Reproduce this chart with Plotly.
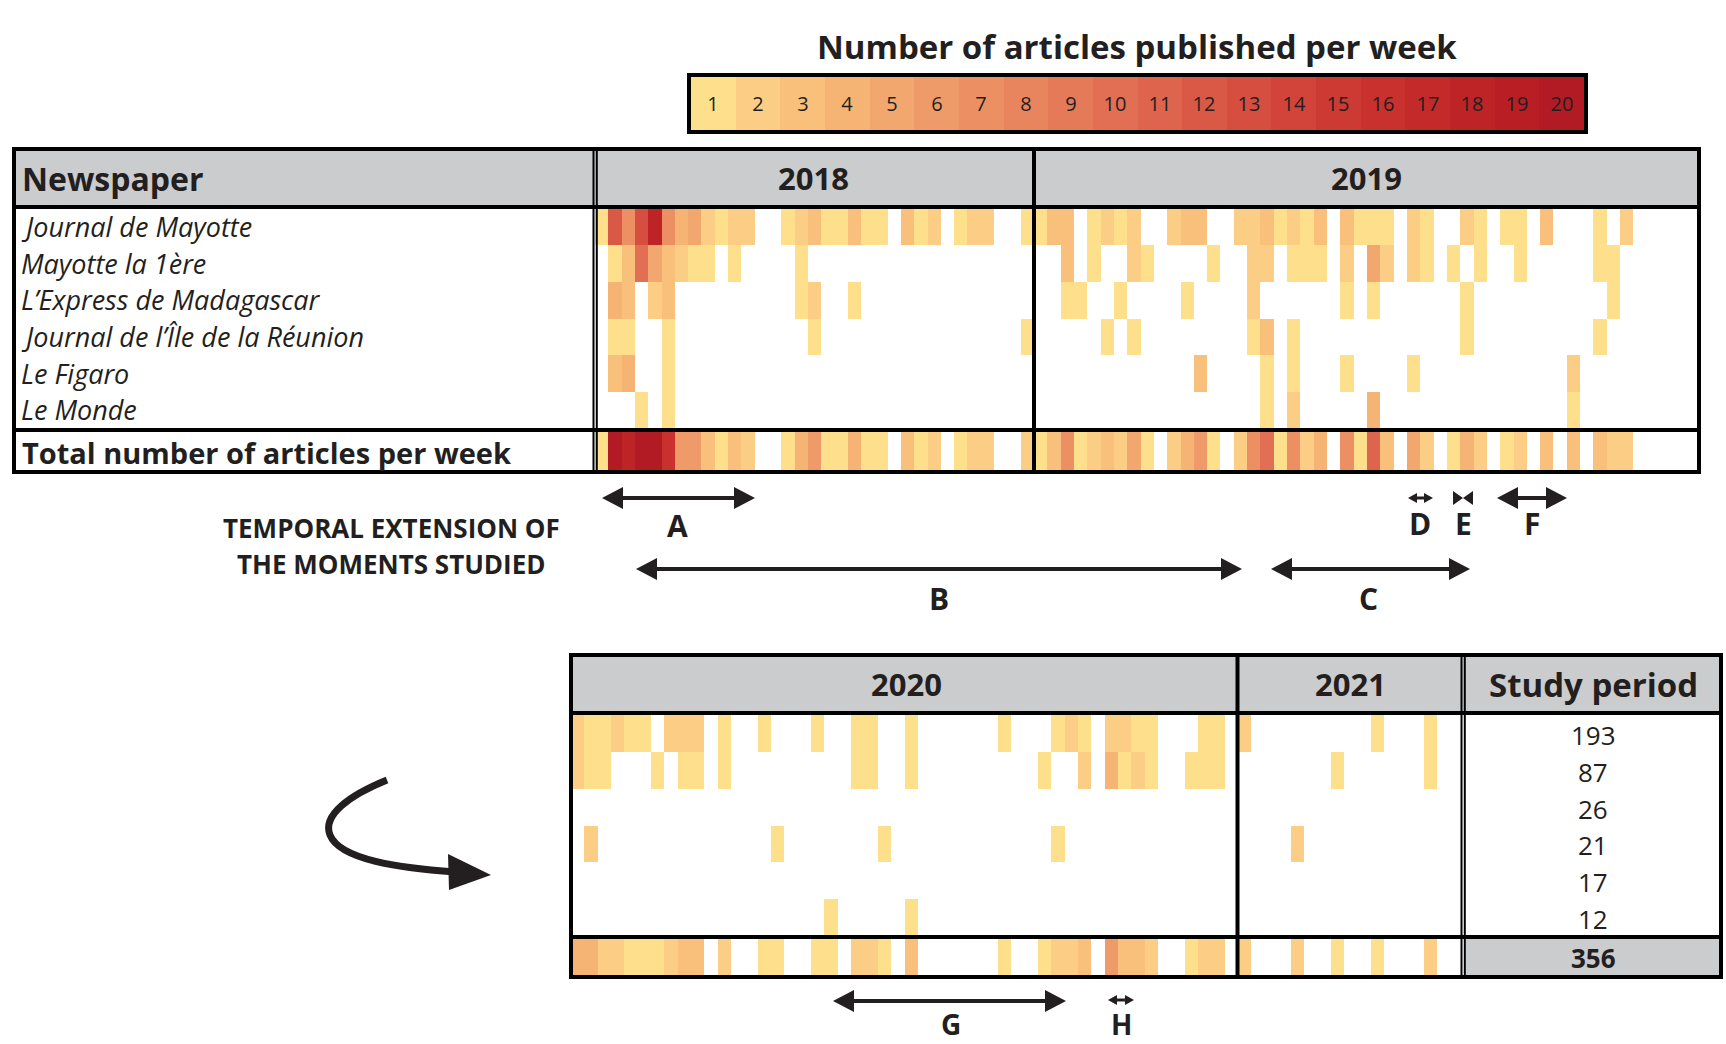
import plotly.graph_objects as go

# newspapers (row order) and the number of articles per study period
newspapers = ["Journal de Mayotte", "Mayotte la 1ère", "L’Express de Madagascar",
              "Journal de l’Île de la Réunion", "Le Figaro", "Le Monde"]
study_period = [193, 87, 26, 21, 17, 12]
study_total = 356
scale_values = list(range(1, 21))

# articles per week, 2018 (33 weeks shown)
jdm_2018 = [1, 12, 7, 13, 18, 7, 4, 5, 2, 1, 2, 2, 0, 0, 1, 2, 3, 1, 1, 3, 1, 1, 0, 3, 1, 2, 0, 1, 2, 2, 0, 0, 1]
m1_2018 = [0, 1, 3, 10, 5, 3, 2, 1, 1, 0, 1, 0, 0, 0, 0, 1, 0, 0, 0, 0, 0, 0, 0, 0, 0, 0, 0, 0, 0, 0, 0, 0, 0]
lem_2018 = [0, 4, 3, 0, 2, 3, 0, 0, 0, 0, 0, 0, 0, 0, 0, 1, 2, 0, 0, 1, 0, 0, 0, 0, 0, 0, 0, 0, 0, 0, 0, 0, 0]
jir_2018 = [0, 1, 1, 0, 0, 1, 0, 0, 0, 0, 0, 0, 0, 0, 0, 0, 1, 0, 0, 0, 0, 0, 0, 0, 0, 0, 0, 0, 0, 0, 0, 0, 1]
fig_2018 = [0, 3, 4, 0, 0, 1, 0, 0, 0, 0, 0, 0, 0, 0, 0, 0, 0, 0, 0, 0, 0, 0, 0, 0, 0, 0, 0, 0, 0, 0, 0, 0, 0]
lmo_2018 = [0, 0, 0, 1, 0, 1, 0, 0, 0, 0, 0, 0, 0, 0, 0, 0, 0, 0, 0, 0, 0, 0, 0, 0, 0, 0, 0, 0, 0, 0, 0, 0, 0]

# 2019 (50 weeks shown)
jdm_2019 = [1, 3, 3, 0, 1, 2, 1, 2, 0, 0, 2, 3, 3, 0, 0, 2, 2, 3, 1, 2, 1, 3, 0, 3, 1,
            1, 1, 0, 2, 1, 0, 0, 2, 1, 0, 1, 1, 0, 3, 0, 0, 0, 1, 0, 2, 0, 0, 0, 0, 0]
m1_2019 = [0, 0, 3, 0, 1, 0, 0, 2, 1, 0, 0, 0, 0, 1, 0, 0, 2, 2, 0, 1, 1, 1, 0, 2, 0,
           5, 2, 0, 2, 1, 0, 1, 0, 1, 0, 0, 1, 0, 0, 0, 0, 0, 1, 1, 0, 0, 0, 0, 0, 0]
lem_2019 = [0, 0, 1, 1, 0, 0, 1, 0, 0, 0, 0, 1, 0, 0, 0, 0, 2, 0, 0, 0, 0, 0, 0, 1, 0,
            1, 0, 0, 0, 0, 0, 0, 1, 0, 0, 0, 0, 0, 0, 0, 0, 0, 0, 1, 0, 0, 0, 0, 0, 0]
jir_2019 = [0, 0, 0, 0, 0, 1, 0, 1, 0, 0, 0, 0, 0, 0, 0, 0, 1, 3, 0, 1, 0, 0, 0, 0, 0,
            0, 0, 0, 0, 0, 0, 0, 1, 0, 0, 0, 0, 0, 0, 0, 0, 0, 1, 0, 0, 0, 0, 0, 0, 0]
fig_2019 = [0, 0, 0, 0, 0, 0, 0, 0, 0, 0, 0, 0, 3, 0, 0, 0, 0, 1, 0, 1, 0, 0, 0, 1, 0,
            0, 0, 0, 1, 0, 0, 0, 0, 0, 0, 0, 0, 0, 0, 0, 2, 0, 0, 0, 0, 0, 0, 0, 0, 0]
lmo_2019 = [0, 0, 0, 0, 0, 0, 0, 0, 0, 0, 0, 0, 0, 0, 0, 0, 0, 1, 0, 2, 0, 0, 0, 0, 0,
            4, 0, 0, 0, 0, 0, 0, 0, 0, 0, 0, 0, 0, 0, 0, 1, 0, 0, 0, 0, 0, 0, 0, 0, 0]

# 2020 (50 weeks shown)
jdm_2020 = [2, 1, 1, 2, 1, 1, 0, 2, 2, 2, 0, 1, 0, 0, 1, 0, 0, 0, 1, 0, 0, 1, 1, 0, 0,
            1, 0, 0, 0, 0, 0, 0, 1, 0, 0, 0, 1, 2, 1, 0, 2, 2, 1, 1, 0, 0, 0, 1, 1, 0]
m1_2020 = [2, 1, 1, 0, 0, 0, 1, 0, 1, 1, 0, 1, 0, 0, 0, 0, 0, 0, 0, 0, 0, 1, 1, 0, 0,
           1, 0, 0, 0, 0, 0, 0, 0, 0, 0, 1, 0, 0, 2, 0, 4, 1, 2, 1, 0, 0, 1, 1, 1, 0]
lem_2020 = [0] * 50
jir_2020 = [0, 2, 0, 0, 0, 0, 0, 0, 0, 0, 0, 0, 0, 0, 0, 1, 0, 0, 0, 0, 0, 0, 0, 1, 0,
            0, 0, 0, 0, 0, 0, 0, 0, 0, 0, 0, 1, 0, 0, 0, 0, 0, 0, 0, 0, 0, 0, 0, 0, 0]
fig_2020 = [0] * 50
lmo_2020 = [0, 0, 0, 0, 0, 0, 0, 0, 0, 0, 0, 0, 0, 0, 0, 0, 0, 0, 0, 1, 0, 0, 0, 0, 0,
            1, 0, 0, 0, 0, 0, 0, 0, 0, 0, 0, 0, 0, 0, 0, 0, 0, 0, 0, 0, 0, 0, 0, 0, 0]

# 2021 (17 weeks shown)
jdm_2021 = [2, 0, 0, 0, 0, 0, 0, 0, 0, 0, 1, 0, 0, 0, 1, 0, 0]
m1_2021 = [0, 0, 0, 0, 0, 0, 0, 1, 0, 0, 0, 0, 0, 0, 1, 0, 0]
lem_2021 = [0] * 17
jir_2021 = [0, 0, 0, 0, 2, 0, 0, 0, 0, 0, 0, 0, 0, 0, 0, 0, 0]
fig_2021 = [0] * 17
lmo_2021 = [0] * 17

rows_2018 = [jdm_2018, m1_2018, lem_2018, jir_2018, fig_2018, lmo_2018]
rows_2019 = [jdm_2019, m1_2019, lem_2019, jir_2019, fig_2019, lmo_2019]
rows_2020 = [jdm_2020, m1_2020, lem_2020, jir_2020, fig_2020, lmo_2020]
rows_2021 = [jdm_2021, m1_2021, lem_2021, jir_2021, fig_2021, lmo_2021]

palette = ["#FEDF8B", "#FBCD85", "#F8C07B", "#F5B374", "#F2A76F", "#EF9B69", "#EC9064",
           "#E8855F", "#E57A59", "#E26F53", "#DE644D", "#DA5946", "#D64E40", "#D2443A",
           "#CD3A33", "#C9312E", "#C42A29", "#BE2426", "#B81E24", "#B21B24"]

W, H = 1726, 1044
FONT = "Open Sans"
INK = "#231F20"
GREY = "#CBCCCE"

colorscale = []
for i, c in enumerate(palette):
    colorscale.append([i / 20, c])
    colorscale.append([(i + 1) / 20, c])


def X(x):
    return x / W


def Y(y):
    return 1 - y / H


def heat(rows, xa, ya, **kw):
    z = [[v if v > 0 else None for v in r] for r in rows]
    return go.Heatmap(z=z, x=list(range(len(rows[0]))), y=list(range(len(rows))),
                      xaxis=xa, yaxis=ya, colorscale=colorscale, zmin=0.5, zmax=20.5,
                      showscale=False, hoverongaps=False, **kw)


def weekly_total(rows):
    return [[sum(col) for col in zip(*rows)]]


fig = go.Figure()
fig.add_trace(heat(rows_2018, "x", "y"))
fig.add_trace(heat(rows_2019, "x2", "y"))
fig.add_trace(heat(weekly_total(rows_2018), "x", "y2"))
fig.add_trace(heat(weekly_total(rows_2019), "x2", "y2"))
fig.add_trace(heat(rows_2020, "x3", "y3"))
fig.add_trace(heat(rows_2021, "x4", "y3"))
fig.add_trace(heat(weekly_total(rows_2020), "x3", "y4"))
fig.add_trace(heat(weekly_total(rows_2021), "x4", "y4"))
# colour legend as a heatmap strip
fig.add_trace(heat([scale_values], "x5", "y5", texttemplate="%{z}",
                   textfont=dict(family=FONT, size=20, color=INK)))


def ax(x0, x1, n):
    return dict(domain=[X(x0), X(x1)], range=[-0.5, n - 0.5], visible=False, fixedrange=True)


def ay(y0, y1, n):
    return dict(domain=[Y(y1), Y(y0)], range=[n - 0.5, -0.5], visible=False, fixedrange=True)


# ---- shapes: table frames, separators, arrows
shapes = []


def rect(x0, y0, x1, y1, fill="rgba(0,0,0,0)", lw=0):
    shapes.append(dict(type="rect", xref="paper", yref="paper", x0=X(x0), x1=X(x1),
                       y0=Y(y1), y1=Y(y0), fillcolor=fill, line=dict(width=lw, color="black")))


def line(x0, y0, x1, y1, lw, color="black"):
    shapes.append(dict(type="line", xref="paper", yref="paper", x0=X(x0), x1=X(x1),
                       y0=Y(y0), y1=Y(y1), line=dict(width=lw, color=color)))


def tri(p1, p2, p3):
    pts = [p1, p2, p3]
    path = "M " + " L ".join(f"{X(a):.5f},{Y(b):.5f}" for a, b in pts) + " Z"
    shapes.append(dict(type="path", xref="paper", yref="paper", path=path,
                       fillcolor=INK, line=dict(width=0)))


def darrow(x0, x1, y, hl=21, hh=11, lw=4):
    line(x0 + hl * 0.8, y, x1 - hl * 0.8, y, lw, INK)
    tri((x0, y), (x0 + hl, y - hh), (x0 + hl, y + hh))
    tri((x1, y), (x1 - hl, y - hh), (x1 - hl, y + hh))


# top table
rect(14, 149, 1699, 207, fill=GREY)
line(14, 207, 1699, 207, 4)
line(14, 430, 1699, 430, 4)
line(593.5, 149, 593.5, 472, 2)
line(596.8, 149, 596.8, 472, 2)
line(1034, 149, 1034, 472, 4)
rect(14, 149, 1699, 472, lw=4)

# bottom table
rect(571, 655, 1721, 713, fill=GREY)
rect(1465, 937, 1721, 976, fill=GREY)
line(571, 713, 1721, 713, 4)
line(571, 937, 1721, 937, 4)
line(1237.5, 655, 1237.5, 977, 4)
line(1461.5, 655, 1461.5, 977, 2)
line(1464.8, 655, 1464.8, 977, 2)
rect(571, 655, 1721, 977, lw=4)

# colour legend frame
rect(689, 75, 1586, 132, lw=4)

# moments studied
darrow(602, 755, 498)
darrow(636, 1242, 569)
darrow(1271, 1470, 569)
darrow(1408, 1433, 498, hl=9, hh=5, lw=3)
tri((1463, 498), (1453, 491), (1453, 505))
tri((1463, 498), (1473, 491), (1473, 505))
darrow(1497, 1567, 498)
darrow(833, 1066, 1001)
darrow(1108, 1134, 1000, hl=9, hh=5, lw=3)

# curved arrow linking the two tables
curve = (f"M {X(387):.5f},{Y(780):.5f} C {X(350):.5f},{Y(795):.5f} {X(322):.5f},{Y(815):.5f} "
         f"{X(330):.5f},{Y(835):.5f} C {X(340):.5f},{Y(860):.5f} {X(400):.5f},{Y(868):.5f} "
         f"{X(455):.5f},{Y(872):.5f}")
shapes.append(dict(type="path", xref="paper", yref="paper", path=curve,
                   line=dict(width=7, color=INK)))
tri((491, 875), (448, 854), (449, 890))

# ---- text
annotations = []


def label(text, x, y, size, anchor="center"):
    annotations.append(dict(text=text, x=X(x), y=Y(y), xref="paper", yref="paper",
                            showarrow=False, xanchor=anchor, yanchor="middle",
                            font=dict(family=FONT, size=size, color=INK)))


label("<b>Number of articles published per week</b>", 1137, 46, 33)
label("<b>Newspaper</b>", 20, 178, 32, "left")
label("<b>2018</b>", 813, 178, 31)
label("<b>2019</b>", 1366, 178, 31)
for i, name in enumerate(newspapers):
    label(f"<i>{name}</i>", 19, 208 + 36.67 * (i + 0.5), 27, "left")
label("<b>Total number of articles per week</b>", 20, 452, 29, "left")

label("<b>2020</b>", 906, 684, 31)
label("<b>2021</b>", 1350, 684, 31)
label("<b>Study period</b>", 1593, 684, 33)
for i, n in enumerate(study_period):
    label(str(n), 1593, 717 + 36.67 * (i + 0.5), 26)
label(f"<b>{study_total}</b>", 1593, 958, 26)

label("<b>TEMPORAL EXTENSION OF</b>", 391, 528, 26)
label("<b>THE MOMENTS STUDIED</b>", 391, 564, 26)
for t, x, y in [("A", 677, 525), ("D", 1420, 523), ("E", 1463, 523), ("F", 1532, 523),
                ("B", 939, 598), ("C", 1368, 598), ("G", 951, 1024), ("H", 1121, 1024)]:
    label(f"<b>{t}</b>", x, y, 28 if t in "GH" else 30)

fig.update_layout(
    width=W, height=H, margin=dict(l=0, r=0, t=0, b=0),
    paper_bgcolor="white", plot_bgcolor="white", showlegend=False,
    xaxis=ax(595, 1034, 33), xaxis2=ax(1034, 1700, 50),
    xaxis3=ax(571, 1237.7, 50), xaxis4=ax(1237.7, 1464, 17),
    xaxis5=ax(691, 1584, 20),
    yaxis=ay(208, 429, 6), yaxis2=ay(432, 471, 1),
    yaxis3=ay(715, 936, 6), yaxis4=ay(938, 976, 1),
    yaxis5=ay(77, 130, 1),
    shapes=shapes, annotations=annotations,
)

# the page's default body margin would shift the figure; remove it
fig.write_html("out.html", config={"displayModeBar": False},
               post_script="document.body.style.margin='0';"
                           "document.body.style.overflow='hidden';")
